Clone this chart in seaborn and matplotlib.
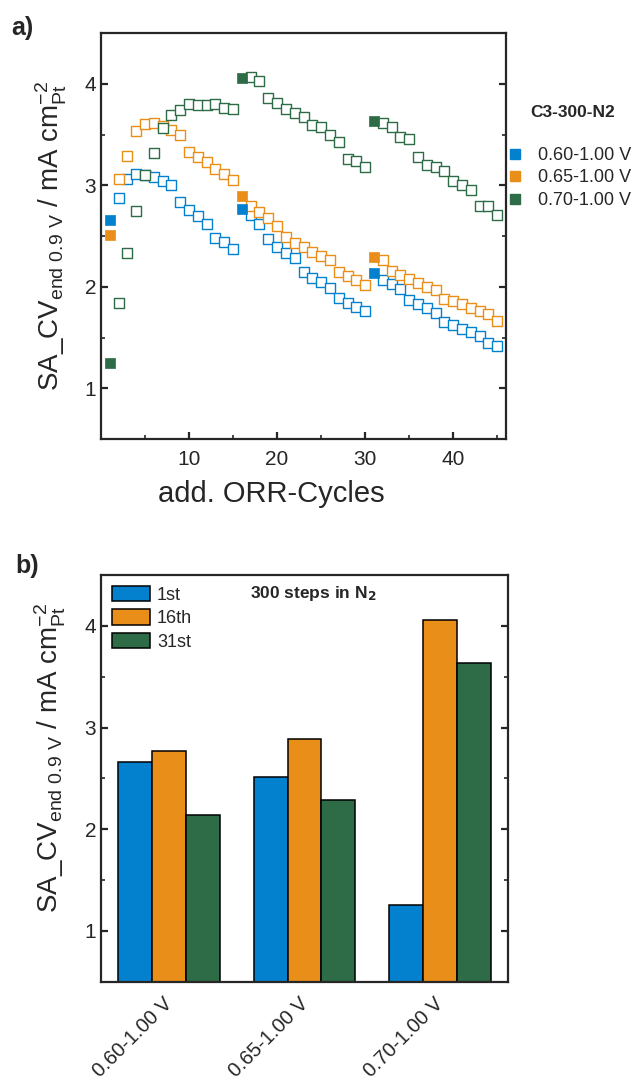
import numpy as np
import pandas as pd
import matplotlib
matplotlib.use("Agg")
import matplotlib.pyplot as plt
import matplotlib.transforms as mtransforms
from matplotlib.lines import Line2D
from matplotlib.ticker import MultipleLocator, FixedLocator
import seaborn as sns

# ---- data -------------------------------------------------------------
cycles = list(range(1, 46))

sa_060 = [2.66, 2.87, 3.06, 3.11, 3.10, 3.08, 3.04, 3.00, 2.84, 2.76,
          2.70, 2.62, 2.48, 2.44, 2.37, 2.77, 2.71, 2.62, 2.47, 2.39,
          2.33, 2.28, 2.15, 2.09, 2.05, 1.99, 1.89, 1.84, 1.80, 1.76,
          2.14, 2.07, 2.03, 1.98, 1.87, 1.83, 1.79, 1.74, 1.65, 1.62,
          1.58, 1.55, 1.52, 1.45, 1.42]
sa_065 = [2.51, 3.06, 3.29, 3.53, 3.60, 3.61, 3.58, 3.54, 3.50, 3.33,
          3.28, 3.23, 3.16, 3.11, 3.05, 2.89, 2.80, 2.74, 2.68, 2.60,
          2.49, 2.43, 2.39, 2.34, 2.30, 2.26, 2.15, 2.11, 2.07, 2.02,
          2.29, 2.26, 2.16, 2.12, 2.08, 2.04, 2.00, 1.97, 1.88, 1.86,
          1.83, 1.79, 1.76, 1.73, 1.66]
sa_070 = [1.25, 1.84, 2.33, 2.75, 3.10, 3.32, 3.56, 3.69, 3.74, 3.80,
          3.79, 3.79, 3.80, 3.76, 3.75, 4.06, 4.07, 4.03, 3.86, 3.81,
          3.75, 3.71, 3.67, 3.59, 3.57, 3.50, 3.43, 3.26, 3.24, 3.18,
          3.63, 3.61, 3.57, 3.48, 3.46, 3.28, 3.20, 3.18, 3.14, 3.04,
          3.00, 2.95, 2.80, 2.80, 2.71]
filled_cycles = [1, 16, 31]

windows = ["0.60-1.00 V", "0.65-1.00 V", "0.70-1.00 V"]
cycle_labels = ["1st", "16th", "31st"]
bar_1st = [2.66, 2.51, 1.25]
bar_16th = [2.77, 2.89, 4.06]
bar_31st = [2.14, 2.29, 3.63]

colors = ["#0481CE", "#E98E18", "#2D6C46"]

# ---- style ------------------------------------------------------------
sns.set_theme(style="ticks")
plt.rcParams["font.family"] = ["Liberation Sans", "DejaVu Sans"]
plt.rcParams["mathtext.default"] = "regular"
plt.rcParams["axes.linewidth"] = 1.6
plt.rcParams["xtick.direction"] = "in"
plt.rcParams["ytick.direction"] = "in"
plt.rcParams["xtick.major.width"] = 1.6
plt.rcParams["ytick.major.width"] = 1.6
plt.rcParams["xtick.minor.width"] = 1.2
plt.rcParams["ytick.minor.width"] = 1.2
plt.rcParams["xtick.major.size"] = 5
plt.rcParams["ytick.major.size"] = 5
plt.rcParams["xtick.minor.size"] = 3
plt.rcParams["ytick.minor.size"] = 3

fig = plt.figure(figsize=(6.35, 10.79), dpi=100)
ax1 = fig.add_axes([0.159, 0.5931, 0.638, 0.3763])
ax2 = fig.add_axes([0.159, 0.0902, 0.641, 0.3769])

ylab = r"SA_CV$_{end\ 0.9\ V}$ / mA cm$^{-2}_{Pt}$"

# ---- a) scatter ---------------------------------------------------------
series = [sa_060, sa_065, sa_070]
for vals, c in zip(series, colors):
    s = pd.Series(vals, index=cycles)
    opn = s.drop(filled_cycles)
    sns.scatterplot(x=opn.index, y=opn.values, ax=ax1, marker="s", s=52,
                    facecolor="white", edgecolor=c, linewidth=1.0, zorder=2)
for vals, c in zip(series, colors):
    s = pd.Series(vals, index=cycles).loc[filled_cycles]
    sns.scatterplot(x=s.index, y=s.values, ax=ax1, marker="s", s=60,
                    color=c, edgecolor=c, linewidth=0.5, zorder=3)

ax1.set_xlim(0, 46)
ax1.set_ylim(0.5, 4.5)
ax1.xaxis.set_major_locator(FixedLocator([10, 20, 30, 40]))
ax1.xaxis.set_minor_locator(FixedLocator([5, 15, 25, 35, 45]))
ax1.yaxis.set_major_locator(MultipleLocator(1))
ax1.yaxis.set_minor_locator(MultipleLocator(0.5))
ax1.tick_params(which="both", right=True, labelsize=15)
ax1.tick_params(axis="x", pad=8)
ax1.set_xlabel("add. ORR-Cycles", fontsize=21)
ax1.xaxis.set_label_coords(0.42, -0.10)
ax1.set_ylabel(ylab, fontsize=20)
ax1.yaxis.set_label_coords(-0.08, 0.5)

handles = [Line2D([], [], marker="s", ls="", color=c, markersize=6.5) for c in colors]
ax1.legend(handles, windows, loc="upper left", bbox_to_anchor=(0.99, 0.728),
           frameon=False, fontsize=13, handletextpad=0.8, labelspacing=0.3,
           handlelength=1.0, borderaxespad=0.0, borderpad=0.2)
ax1.text(1.165, 0.804, "C3-300-N2", transform=ax1.transAxes, fontsize=12.5,
         fontweight="bold", ha="center", va="center")

# ---- b) bars -------------------------------------------------------------
df = pd.DataFrame({
    "window": windows * 3,
    "cycle": [cycle_labels[0]] * 3 + [cycle_labels[1]] * 3 + [cycle_labels[2]] * 3,
    "value": bar_1st + bar_16th + bar_31st,
})
sns.barplot(data=df, x="window", y="value", hue="cycle", palette=colors,
            saturation=1, width=0.75, edgecolor="black", linewidth=1.1, ax=ax2)

ax2.set_xlim(-0.5, 2.5)
ax2.set_ylim(0.5, 4.5)
ax2.yaxis.set_major_locator(MultipleLocator(1))
ax2.yaxis.set_minor_locator(MultipleLocator(0.5))
ax2.tick_params(axis="y", which="both", right=True, labelsize=15)
ax2.tick_params(axis="x", length=0, labelsize=14.5, pad=9)
shift = mtransforms.ScaledTranslation(-0.06, 0.0, fig.dpi_scale_trans)
for lbl in ax2.get_xticklabels():
    lbl.set_rotation(45)
    lbl.set_ha("right")
    lbl.set_rotation_mode("anchor")
    lbl.set_transform(lbl.get_transform() + shift)
ax2.set_xlabel("")
ax2.set_ylabel(ylab, fontsize=20)
ax2.yaxis.set_label_coords(-0.08, 0.55)

ax2.legend(loc="upper left", frameon=False, fontsize=13, title=None,
           handlelength=2.1, handleheight=0.95, labelspacing=0.3,
           handletextpad=0.4, borderaxespad=0.3, borderpad=0.3)
ax2.text(0.365, 0.955, r"300 steps in N$_\mathbf{2}$", transform=ax2.transAxes,
         fontsize=12.5, fontweight="bold", ha="left", va="center")

fig.text(0.018, 0.974, "a)", fontsize=18, fontweight="bold", va="center")
fig.text(0.024, 0.475, "b)", fontsize=18, fontweight="bold", va="center")

fig.savefig("out.png", dpi=100)
